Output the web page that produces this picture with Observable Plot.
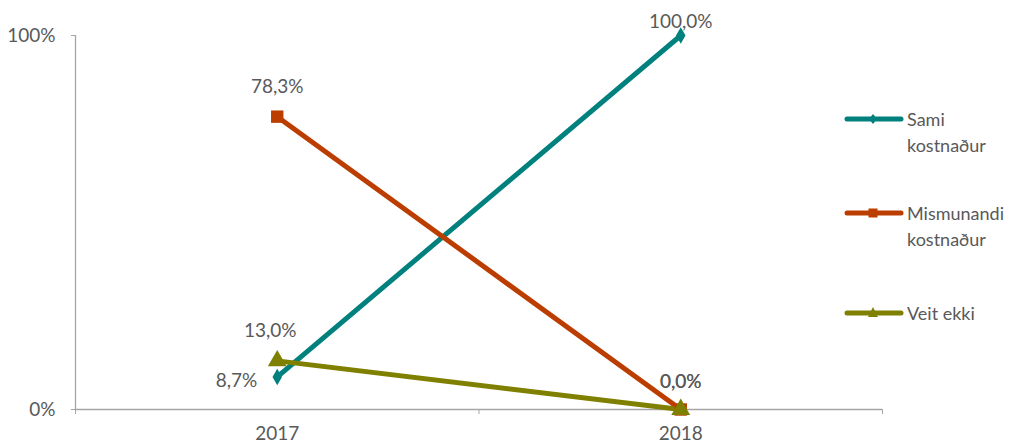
<!DOCTYPE html>
<html><head><meta charset="utf-8">
<script src="https://cdn.jsdelivr.net/npm/d3@7"></script>
<script src="https://cdn.jsdelivr.net/npm/@observablehq/plot@0.6"></script>
<style>
body{margin:0;background:#fff;font-family:Lato,"Open Sans",sans-serif;}
#wrap{position:relative;width:1016px;height:447px;overflow:hidden;}
.item{position:absolute;left:843px;display:flex;align-items:flex-start;}
.item svg{flex:none;}
.item .lab{width:114px;font-size:18px;line-height:26px;color:#595959;padding-left:2px;}
</style></head>
<body><div id="wrap"></div>
<script>
const years = [2017, 2018];
const seriesNames = ["Sami kostnaður", "Mismunandi kostnaður", "Veit ekki"];
const sami = [0.087, 1.0];
const mismunandi = [0.783, 0.0];
const veitEkki = [0.13, 0.0];
const yTicks = [0, 1];

const colors = ["#00817E", "#BB3D00", "#808000"];
const symbols = ["diamond", "square", "triangle"];
const symbolR = [5, 7, 7];
const textColor = "#595959";
const axisColor = "#A6A6A6";

const allValues = [sami, mismunandi, veitEkki];
const rows = [];
seriesNames.forEach((s, i) => years.forEach((yr, j) => rows.push({series: s, year: yr, value: allValues[i][j]})));

const loc = d3.formatLocale({decimal: ",", thousands: ".", grouping: [3], currency: ["", " kr"]});
const pct1 = loc.format(".1%");
const pct0 = loc.format(".0%");

// label placement per series/year: [dx, dy, anchor]
function place(d) {
  if (d.year === 2018) return d.value >= 1 ? [0, -14, "middle"] : [0, -28, "middle"];
  if (d.series === seriesNames[0]) return [-20, 4, "end"];
  if (d.series === seriesNames[1]) return [0, -30, "middle"];
  return [-7, -30, "middle"];
}
const groups = d3.groups(rows, d => place(d).join("|"));
const textMarks = groups.map(([key, g]) => {
  const [dx, dy, anchor] = key.split("|");
  return Plot.text(g, {x: "year", y: "value", text: d => pct1(d.value), dx: +dx, dy: +dy,
    textAnchor: anchor, fill: textColor, fontSize: 19});
});
const dotMarks = seriesNames.map((s, i) =>
  Plot.dot(rows.filter(d => d.series === s), {x: "year", y: "value", symbol: "series", fill: "series", r: symbolR[i]}));

const chart = Plot.plot({
  width: 1016, height: 447,
  marginLeft: 75, marginRight: 134, marginTop: 35, marginBottom: 38,
  style: {fontFamily: "Lato, 'Open Sans', sans-serif", background: "white"},
  x: {domain: [years[0] - 0.5, years[years.length - 1] + 0.5], label: null},
  y: {domain: [0, 1], label: null},
  color: {domain: seriesNames, range: colors},
  symbol: {domain: seriesNames, range: symbols},
  marks: [
    Plot.ruleY([0], {stroke: axisColor, strokeWidth: 1.3}),
    Plot.ruleX([years[0] - 0.5], {y1: 0, y2: 1, stroke: axisColor, strokeWidth: 1.3}),
    Plot.axisY({ticks: yTicks, tickSize: 4, tickFormat: () => "", color: axisColor, label: null}),
    Plot.axisY({ticks: yTicks, tickSize: 0, tickPadding: 20, tickFormat: pct0, color: textColor, fontSize: 19, label: null}),
    Plot.axisX({ticks: [2016.5, 2017.5, 2018.5], tickSize: 5, tickFormat: () => "", color: axisColor, label: null}),
    Plot.axisX({ticks: years, tickSize: 0, tickPadding: 17, tickFormat: d => String(d), color: textColor, fontSize: 19, label: null}),
    Plot.line(rows, {x: "year", y: "value", z: "series", stroke: "series", strokeWidth: 5}),
    ...dotMarks,
    ...textMarks
  ]
});
const wrap = document.getElementById("wrap");
wrap.appendChild(chart);

// legend
const legendY = [119, 213, 313];
const smallSym = {
  diamond: '<path d="M30,8 L34,13 L30,18 L26,13Z"/>',
  square: '<rect x="25.5" y="8.5" width="9" height="9"/>',
  triangle: '<path d="M30,7 L35,17 L25,17Z"/>'
};
seriesNames.forEach((s, i) => {
  const div = document.createElement("div");
  div.className = "item";
  div.style.top = (legendY[i] - 13) + "px";
  div.innerHTML = `<svg width="62" height="26"><g fill="${colors[i]}"><line x1="4" y1="13" x2="58" y2="13" stroke="${colors[i]}" stroke-width="5" stroke-linecap="round"/>${smallSym[symbols[i]]}</g></svg><div class="lab">${s}</div>`;
  wrap.appendChild(div);
});
</script>
</body></html>
